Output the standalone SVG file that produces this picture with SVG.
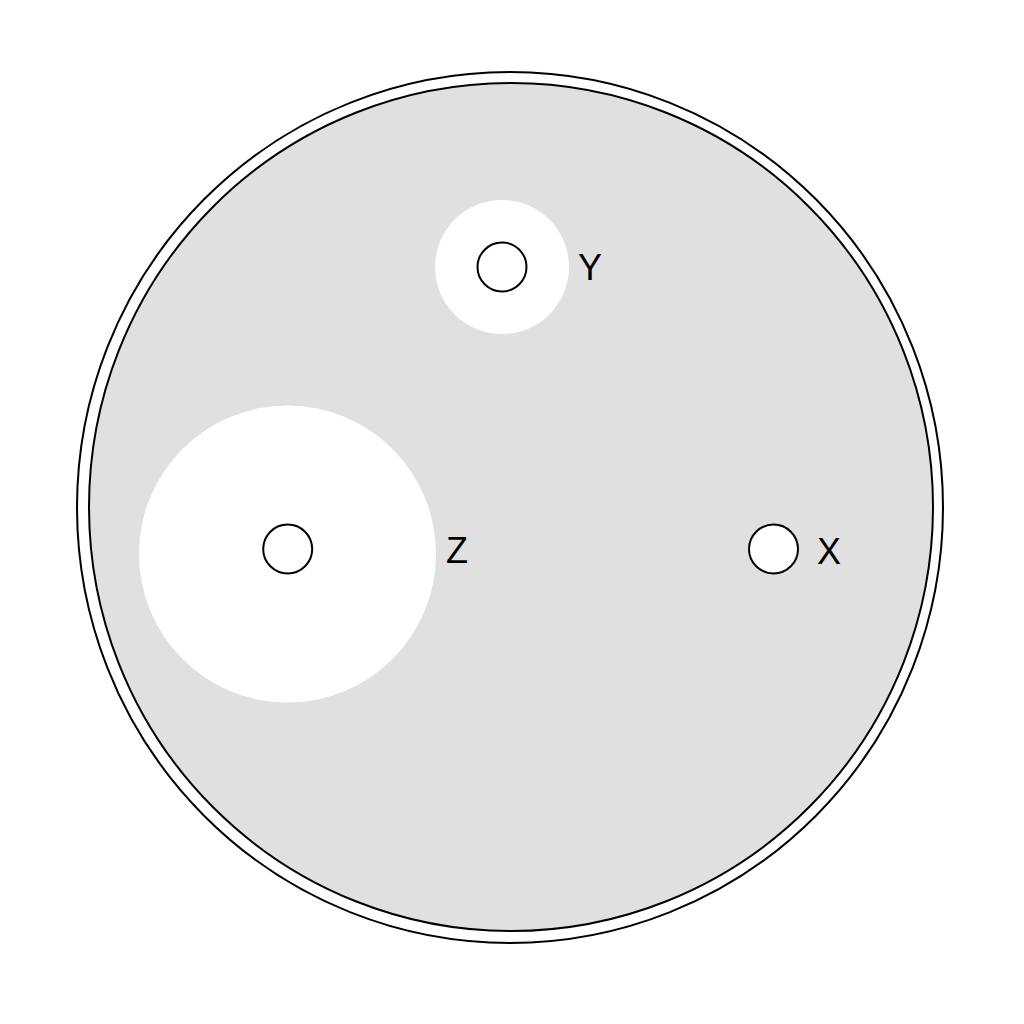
<svg xmlns="http://www.w3.org/2000/svg" width="1024" height="1024" viewBox="0 0 1024 1024">
<style>
.rim{fill:none;stroke:#000;stroke-width:2}
.agar{fill:#e0e0e0;stroke:#000;stroke-width:2}
.zone{fill:#fff;stroke:none}
.disc{fill:#fff;stroke:#000;stroke-width:2}
.lbl{font-family:"Liberation Sans",Arial,sans-serif;font-size:36px;fill:#000}
</style>
<rect width="1024" height="1024" fill="#fff"/>
<g id="dish">
<ellipse class="rim" cx="510" cy="507.5" rx="433" ry="435.5"/>
<ellipse class="agar" cx="511" cy="507" rx="422" ry="424"/>
</g>
<g id="disc-Y">
<circle class="zone" cx="502" cy="267" r="67"/>
<circle class="disc" cx="502" cy="267" r="24.5"/>
<text class="lbl" x="578" y="280">Y</text>
</g>
<g id="disc-Z">
<circle class="zone" cx="287.5" cy="554" r="148.5"/>
<circle class="disc" cx="287.7" cy="549" r="24.5"/>
<text class="lbl" x="446" y="563">Z</text>
</g>
<g id="disc-X">
<circle class="disc" cx="773.5" cy="549" r="24.5"/>
<text class="lbl" x="817" y="564">X</text>
</g>
<g id="connectors"></g>
</svg>
